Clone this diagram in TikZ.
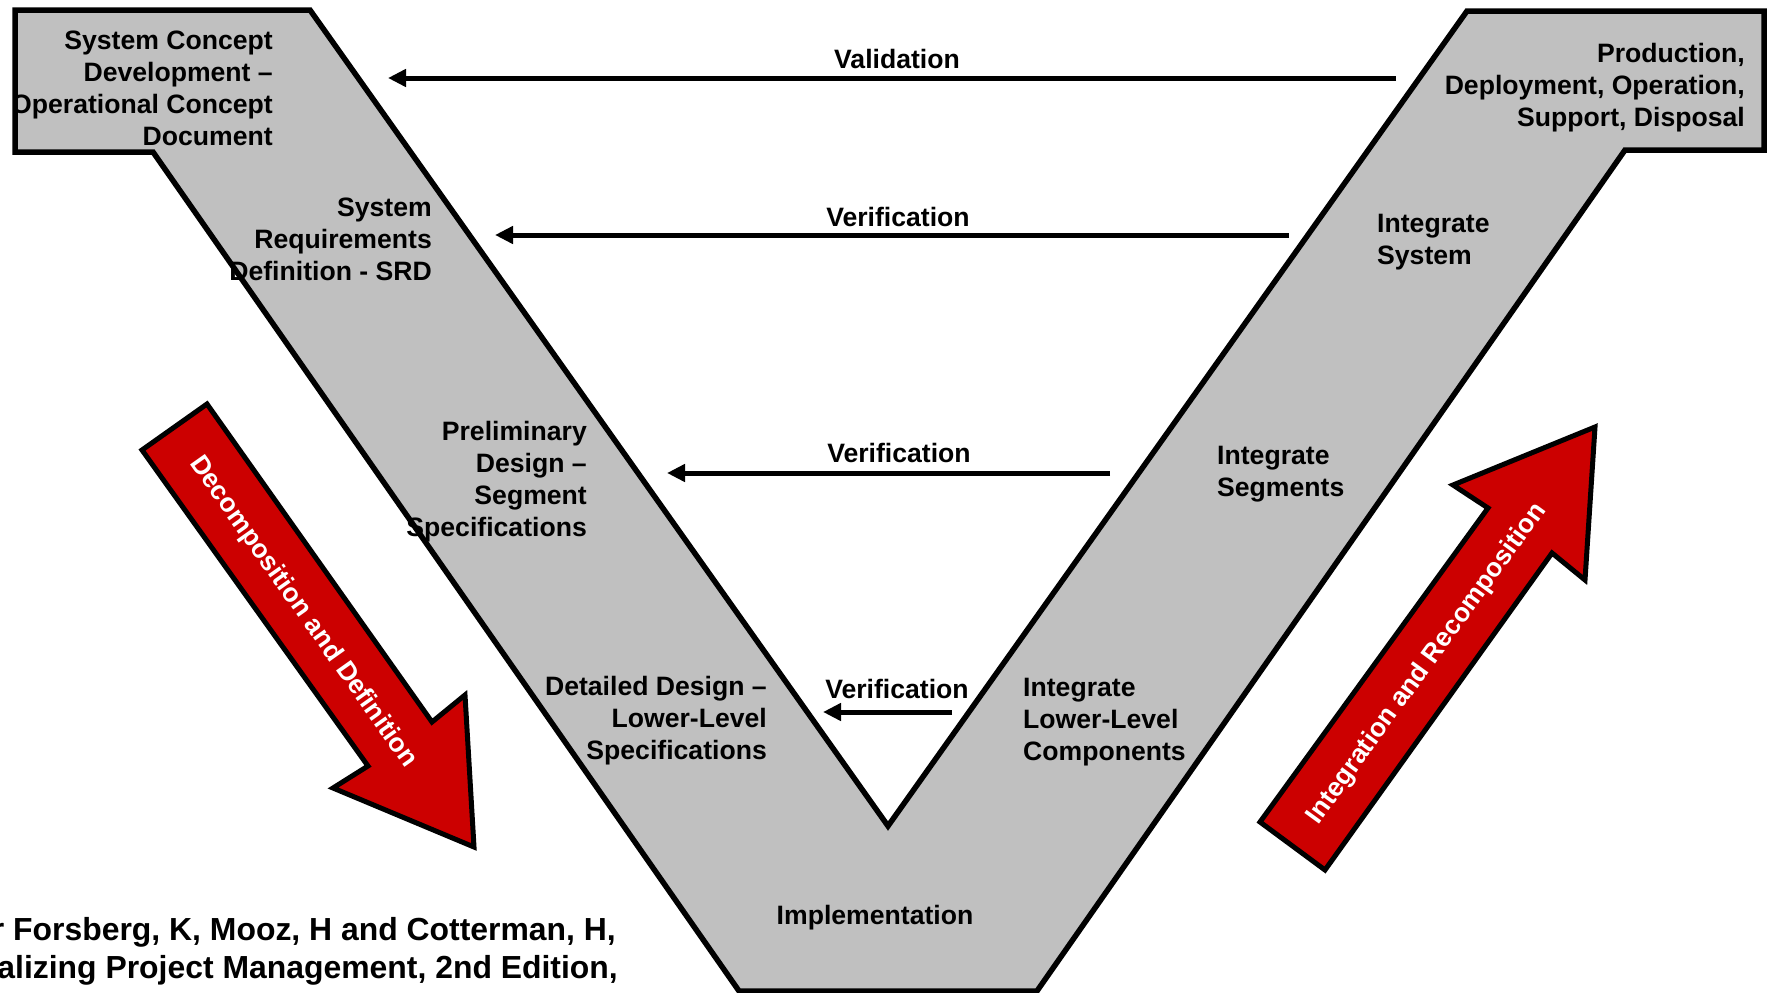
\documentclass[tikz,border=0pt]{standalone}
\usepackage{fontspec}
\setmainfont{Liberation Sans}
\usetikzlibrary{arrows.meta}
\definecolor{vgray}{HTML}{C0C0C0}
\definecolor{vred}{HTML}{CC0000}
\begin{document}
\begin{tikzpicture}[x=1pt,y=-1pt,
  lbl/.style={font=\fontsize{26.6}{32}\selectfont\bfseries, inner sep=0pt, text=black},
  flow/.style={line width=5pt, -{Triangle[length=18pt,width=17pt]}},
  band/.style={fill=vgray, draw=black, line width=5.5pt, line join=miter},
  bigarrow/.style={fill=vred, draw=black, line width=5pt, line join=miter},
  arrtxt/.style={font=\fontsize{26.4}{32}\selectfont\bfseries, text=white, inner sep=0pt},
  citetxt/.style={font=\fontsize{31.9}{38.5}\selectfont\bfseries, inner sep=0pt, anchor=base east}
]
\useasboundingbox (0,0) rectangle (1773,993);
\clip (0,0) rectangle (1773,993);

% V band
\draw[band] (15,10) -- (310,10) -- (888,826) -- (1467,11) -- (1764,11)
  -- (1764,150) -- (1625,150) -- (1037,991) -- (739,991) -- (153,152)
  -- (15,152) -- cycle;

% labels on the V
\begin{scope}
\clip (18,13) rectangle (330,149);
\node[lbl, align=right, anchor=north east] (scd) at (273,31)
  {System Concept\\Development – \\Operational Concept\\Document};
\end{scope}
\node[lbl, align=right, anchor=north east] (srd) at (432,198)
  {System\\Requirements\\Definition - SRD};
\node[lbl, align=right, anchor=north east] (pdes) at (587,421)
  {Preliminary\\Design –\\Segment\\Specifications};
\node[lbl, align=right, anchor=north east] (ddes) at (767,676)
  {Detailed Design –\\Lower-Level\\Specifications};
\node[lbl, anchor=base] (impl) at (875,924) {Implementation};
\node[lbl, align=left, anchor=north west] (illc) at (1023,678)
  {Integrate\\Lower-Level\\Components};
\node[lbl, align=left, anchor=north west] (iseg) at (1217,446)
  {Integrate\\Segments};
\node[lbl, align=left, anchor=north west] (isys) at (1377,214)
  {Integrate\\System};
\node[lbl, align=right, anchor=north east] (prod) at (1745,43)
  {Production,\\Deployment, Operation,\\Support, Disposal};

% validation / verification arrows
\coordinate (a1s) at (1396,78);  \coordinate (a1e) at (388,78);
\coordinate (a2s) at (1289,235); \coordinate (a2e) at (495,235);
\coordinate (a3s) at (1110,473); \coordinate (a3e) at (667,473);
\coordinate (a4s) at (952,712);  \coordinate (a4e) at (823,712);
\draw[flow] (a1s) -- (a1e);
\draw[flow] (a2s) -- (a2e);
\draw[flow] (a3s) -- (a3e);
\draw[flow] (a4s) -- (a4e);
\node[lbl] (val) at (897,59) {Validation};
\node[lbl] (ver1) at (898,217) {Verification};
\node[lbl] (ver2) at (899,453) {Verification};
\node[lbl] (ver3) at (897,689) {Verification};

% red arrows
\draw[bigarrow] (142,450) -- (207,404) -- (432,722) -- (465,695) -- (474,847)
  -- (333,788) -- (368,766) -- cycle;
\node[arrtxt, rotate=-54.7] (dec) at (303,612) {Decomposition and Definition};
\draw[bigarrow] (1325,870) -- (1260,822) -- (1488,508) -- (1453,485) -- (1595,427)
  -- (1585,580) -- (1552,553) -- cycle;
\node[arrtxt, rotate=54] (int) at (1427,664) {Integration and Recomposition};

% citation
\node[citetxt] (cit1) at (616,940) {r Forsberg, K, Mooz, H and Cotterman, H,};
\node[citetxt] (cit2) at (618,978) {alizing Project Management, 2nd Edition,};
\end{tikzpicture}
\end{document}
